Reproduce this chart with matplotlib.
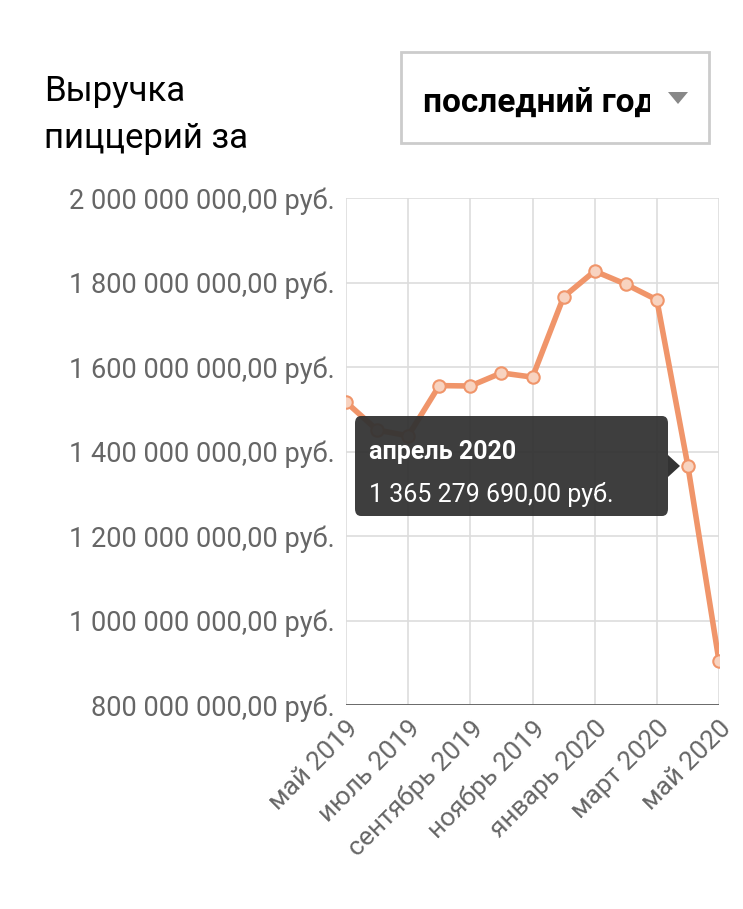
import matplotlib.pyplot as plt
from matplotlib.patches import FancyBboxPatch, Rectangle, Polygon

months = ["май 2019", "июнь 2019", "июль 2019", "август 2019", "сентябрь 2019",
          "октябрь 2019", "ноябрь 2019", "декабрь 2019", "январь 2020",
          "февраль 2020", "март 2020", "апрель 2020", "май 2020"]
revenue = [1517e6, 1451e6, 1437e6, 1556e6, 1555e6, 1586e6, 1576e6,
           1766e6, 1827e6, 1796e6, 1759e6, 1365279690, 904e6]
yticks = [8e8, 1e9, 1.2e9, 1.4e9, 1.6e9, 1.8e9, 2e9]

plt.rcParams['font.family'] = ['Roboto', 'DejaVu Sans']

W, H = 743, 909
fig = plt.figure(figsize=(W / 100, H / 100), dpi=100)
ax = fig.add_axes([346 / W, 1 - 705 / H, (719 - 346) / W, (705 - 198) / H])

def rub(v):
    s = f"{int(round(v)):,}".replace(",", " ")
    return s + ",00 руб."

x = list(range(len(months)))
ax.plot(x, revenue, color='#f0956a', lw=4, zorder=3, solid_joinstyle='round')
ax.scatter(x, revenue, s=80, facecolor='#f8d3c0', edgecolor='#f0956a', lw=1.5, zorder=4)

ax.set_xlim(0, 12)
ax.set_ylim(8e8, 2e9)
ax.set_xticks(x[::2])
ax.set_xticklabels(months[::2], rotation=45, ha='right', rotation_mode='anchor',
                   fontsize=19, color='#666666')
ax.set_yticks(yticks)
ax.set_yticklabels([rub(v) for v in yticks], fontsize=19.5, color='#666666')
ax.tick_params(length=0, pad=8)
ax.grid(True, color='#dddddd', lw=1.2)
for s in ax.spines.values():
    s.set_visible(False)
ax.axhline(8e8, color='#555555', lw=1.2, zorder=2)

# tooltip
tip = FancyBboxPatch((355 / W, 1 - 516 / H), (668 - 355) / W, (516 - 416) / H,
                     boxstyle="round,pad=0,rounding_size=0.008", transform=fig.transFigure,
                     facecolor='#333333', edgecolor='none', alpha=0.95, zorder=10)
fig.patches.append(tip)
fig.patches.append(Polygon([(668 / W, 1 - 455 / H), (680 / W, 1 - 466 / H), (668 / W, 1 - 477 / H)],
                           closed=True, transform=fig.transFigure, facecolor='#333333', zorder=10))
fig.text(369 / W, 1 - 459 / H, "апрель 2020", fontsize=18, weight='bold', color='white', zorder=11)
fig.text(369 / W, 1 - 502 / H, rub(revenue[11]), fontsize=18, color='white', zorder=11)

# title
fig.text(44 / W, 1 - 155 / H, "Выручка\nпиццерий за", fontsize=25, color='black',
         linespacing=1.55, va='bottom')

# dropdown
fig.patches.append(Rectangle((401 / W, 1 - 143 / H), (709 - 401) / W, (143 - 52) / H,
                             transform=fig.transFigure, facecolor='white',
                             edgecolor='#cccccc', lw=2))
t = fig.text(423 / W, 1 - 103 / H, "последний год", fontsize=24, weight='bold',
             color='black', va='center')
t.set_clip_on(True)
t.set_clip_box(None)
t.set_clip_path(Rectangle((401 / W, 1 - 143 / H), (650 - 401) / W, (143 - 52) / H,
                          transform=fig.transFigure))
fig.patches.append(Polygon([(668 / W, 1 - 92 / H), (688 / W, 1 - 92 / H), (678 / W, 1 - 104 / H)],
                           closed=True, transform=fig.transFigure, facecolor='#888888'))

fig.savefig('out.png', dpi=100)
